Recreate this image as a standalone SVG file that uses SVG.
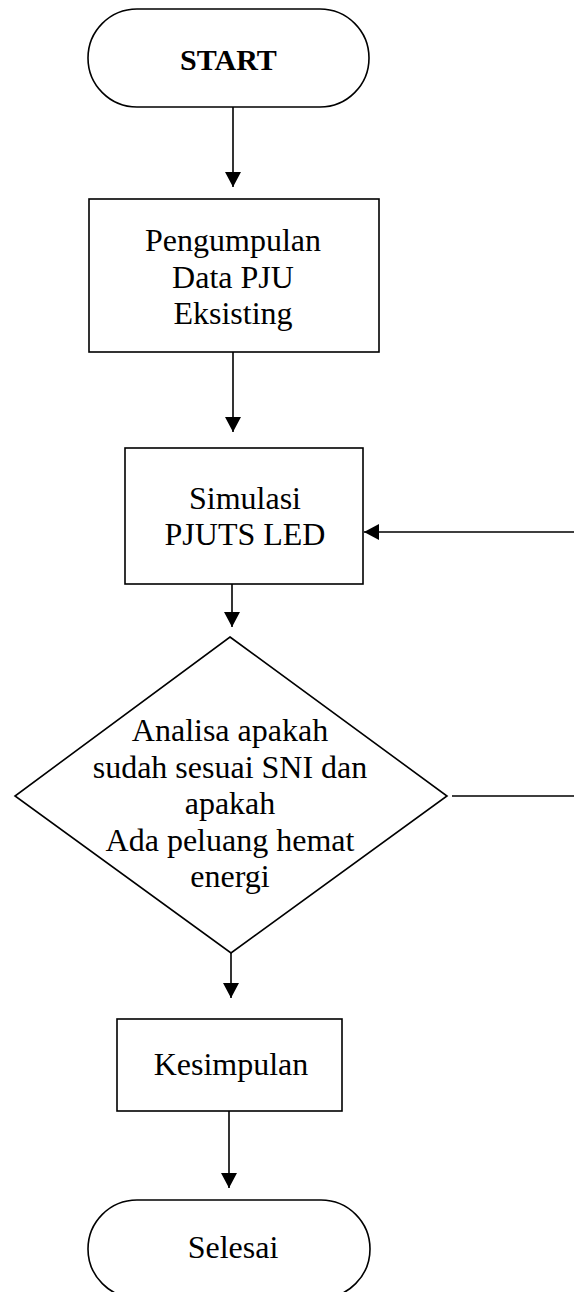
<svg xmlns="http://www.w3.org/2000/svg" width="574" height="1292" viewBox="0 0 574 1292">
<defs>
<style>
.shape{fill:#fff;stroke:#000;stroke-width:1.6}
.conn{fill:none;stroke:#000;stroke-width:1.6}
.t{font-family:"Liberation Serif","Times New Roman",serif;font-size:32px;fill:#000;text-anchor:middle}
.b{font-weight:bold;font-size:30px}
</style>
<marker id="arr" viewBox="0 0 15 16" refX="15" refY="8" markerWidth="15" markerHeight="16" markerUnits="userSpaceOnUse" orient="auto">
<path d="M0,0 L15,8 L0,16 z" fill="#000"/>
</marker>
</defs>
<rect width="574" height="1292" fill="#fff"/>
<g id="connectors">
<path class="conn" d="M233,107 V187" marker-end="url(#arr)"/>
<path class="conn" d="M233,352 V432" marker-end="url(#arr)"/>
<path class="conn" d="M232,584 V627" marker-end="url(#arr)"/>
<path class="conn" d="M231,953 V998" marker-end="url(#arr)"/>
<path class="conn" d="M229,1111 V1188" marker-end="url(#arr)"/>
<path class="conn" d="M452,796 H590 V532 H364" marker-end="url(#arr)"/>
</g>
<g id="start">
<rect class="shape" x="88" y="9" width="281" height="98" rx="49" ry="49"/>
<text class="t b" x="228.5" y="70">START</text>
</g>
<g id="pengumpulan">
<rect class="shape" x="89" y="199" width="290" height="153"/>
<text class="t" x="233" y="251">Pengumpulan</text>
<text class="t" x="233" y="287.5">Data PJU</text>
<text class="t" x="233" y="324">Eksisting</text>
</g>
<g id="simulasi">
<rect class="shape" x="125" y="448" width="238" height="136"/>
<text class="t" x="245" y="509">Simulasi</text>
<text class="t" x="245" y="545">PJUTS LED</text>
</g>
<g id="analisa">
<polygon class="shape" points="230,637 447,796 231,953 15,796"/>
<text class="t" x="230" y="741">Analisa apakah</text>
<text class="t" x="230" y="777.5">sudah sesuai SNI dan</text>
<text class="t" x="230" y="814">apakah</text>
<text class="t" x="230" y="850.5">Ada peluang hemat</text>
<text class="t" x="230" y="887">energi</text>
</g>
<g id="kesimpulan">
<rect class="shape" x="117" y="1019" width="225" height="92"/>
<text class="t" x="231" y="1075">Kesimpulan</text>
</g>
<g id="selesai">
<rect class="shape" x="88" y="1200" width="282" height="98" rx="49" ry="49"/>
<text class="t" x="233" y="1258">Selesai</text>
</g>
</svg>
